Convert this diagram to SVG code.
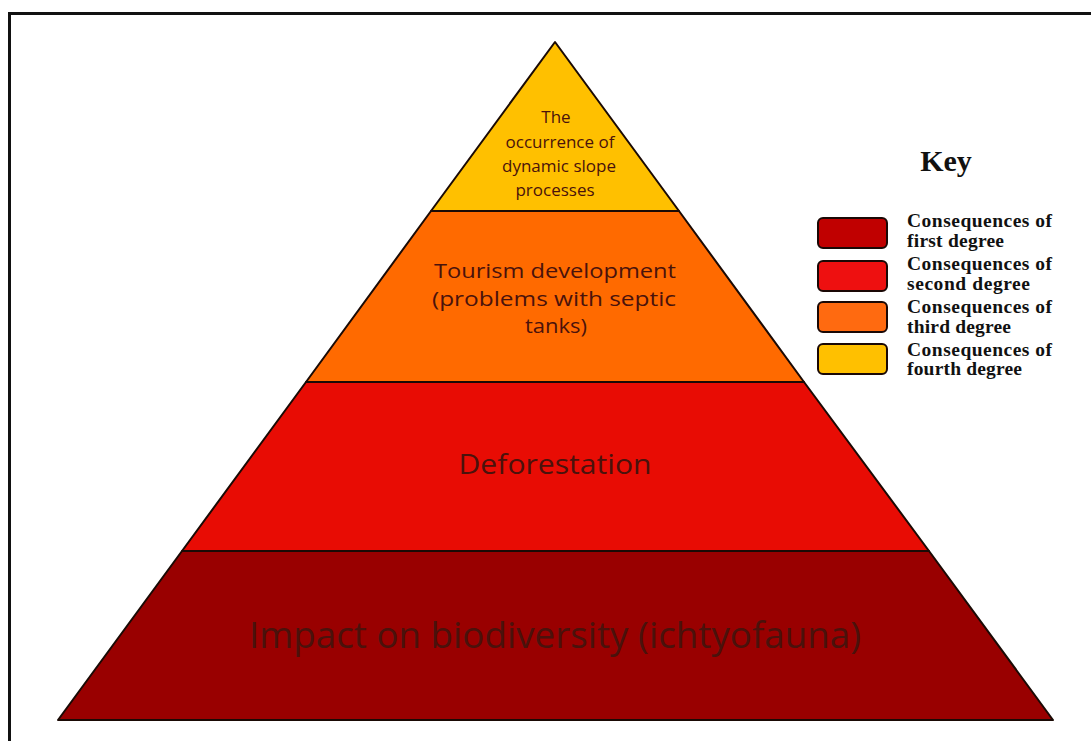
<svg xmlns="http://www.w3.org/2000/svg" width="1091" height="741" viewBox="0 0 1091 741">
<style>
.tier{stroke:#1a0a05;stroke-width:2;stroke-linejoin:round}
.pt{font-family:"Open Sans","Liberation Sans",sans-serif;fill:#4a120c;text-anchor:middle}
.kb{stroke:#1a0805;stroke-width:2}
.kt{font-family:"Liberation Serif","Times New Roman",serif;font-weight:bold;fill:#111;font-size:19.5px}
</style>
<rect x="0" y="0" width="1091" height="741" fill="#fff"/>
<rect x="9.5" y="13.5" width="1100" height="740" fill="none" stroke="#111" stroke-width="3"/>
<g id="tier4">
<polygon class="tier" points="555,42 679,211 431,211" fill="#FFC000"/>
<text class="pt" font-size="17"><tspan x="556" y="123">The</tspan><tspan x="560" y="148">occurrence of</tspan><tspan x="559" y="172">dynamic slope</tspan><tspan x="555" y="196">processes</tspan></text>
</g>
<g id="tier3">
<polygon class="tier" points="431,211 679,211 804,382 306,382" fill="#FF6A00"/>
<text class="pt" font-size="20.5" x="555" y="278" textLength="242" lengthAdjust="spacingAndGlyphs">Tourism development</text>
<text class="pt" font-size="20.5" x="554" y="306" textLength="244" lengthAdjust="spacingAndGlyphs">(problems with septic</text>
<text class="pt" font-size="20.5" x="556" y="333" textLength="62" lengthAdjust="spacingAndGlyphs">tanks)</text>
</g>
<g id="tier2">
<polygon class="tier" points="306,382 804,382 929,551 182,551" fill="#E80C04"/>
<text class="pt" font-size="28" x="555" y="474" textLength="193" lengthAdjust="spacingAndGlyphs">Deforestation</text>
</g>
<g id="tier1">
<polygon class="tier" points="182,551 929,551 1053,720 58,720" fill="#990000"/>
<text class="pt" font-size="36" x="555" y="648" fill="#4a0805" textLength="612" lengthAdjust="spacingAndGlyphs">Impact on biodiversity (ichtyofauna)</text>
</g>
<g id="connectors"/>
<g id="key">
<text x="946" y="171" font-family="Liberation Serif,serif" font-weight="bold" font-size="30" text-anchor="middle" fill="#111">Key</text>
<rect class="kb" x="818" y="218" width="69" height="30" rx="5" fill="#C00000"/>
<rect class="kb" x="818" y="261" width="69" height="30" rx="5" fill="#EE1010"/>
<rect class="kb" x="818" y="302" width="69" height="30" rx="5" fill="#FF6A10"/>
<rect class="kb" x="818" y="344" width="69" height="30" rx="5" fill="#FFC000"/>
<text class="kt" x="907" y="227" textLength="145">Consequences of</text>
<text class="kt" x="907" y="247" textLength="97">first degree</text>
<text class="kt" x="907" y="270" textLength="145">Consequences of</text>
<text class="kt" x="907" y="290" textLength="123">second degree</text>
<text class="kt" x="907" y="313" textLength="145">Consequences of</text>
<text class="kt" x="907" y="333" textLength="104">third degree</text>
<text class="kt" x="907" y="356" textLength="145">Consequences of</text>
<text class="kt" x="907" y="375" textLength="115">fourth degree</text>
</g>
</svg>
